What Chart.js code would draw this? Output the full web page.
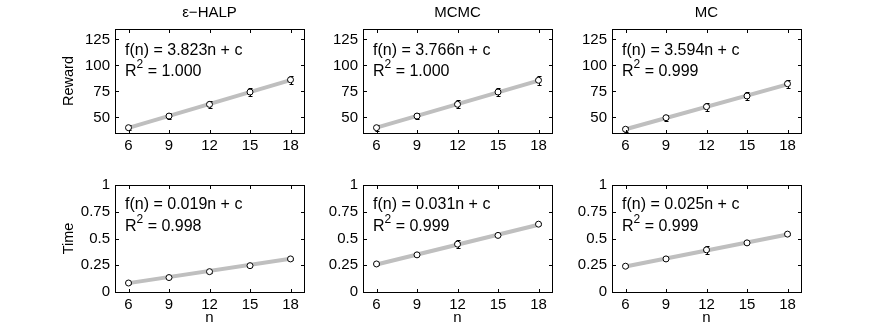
<!DOCTYPE html>
<html>
<head>
<meta charset="utf-8">
<script src="https://cdn.jsdelivr.net/npm/chart.js@4.4.1/dist/chart.umd.min.js"></script>
<style>
  body { margin: 0; background: #fff; }
  #wrap { position: relative; width: 886px; height: 332px; overflow: hidden; background: #fff; }
  canvas { position: absolute; }
</style>
</head>
<body>
<div id="wrap">
  <canvas id="r0" width="264" height="160" style="left:50px;top:0px"></canvas>
  <canvas id="r1" width="264" height="160" style="left:298px;top:0px"></canvas>
  <canvas id="r2" width="264" height="160" style="left:547px;top:0px"></canvas>
  <canvas id="t0" width="264" height="182" style="left:50px;top:150px"></canvas>
  <canvas id="t1" width="264" height="182" style="left:298px;top:150px"></canvas>
  <canvas id="t2" width="264" height="182" style="left:547px;top:150px"></canvas>
</div>
<script>
const nValues = [6, 9, 12, 15, 18];
const methods = ["ε−HALP", "MCMC", "MC"];

// reward means and error half-widths
const rewardHalp = [40.1, 51.3, 62.5, 74.4, 86.2];
const rewardHalpErr = [2.5, 3, 3.5, 4, 4];
const rewardMcmc = [40.1, 51.3, 62.6, 74.4, 85.7];
const rewardMcmcErr = [3, 2.8, 3.7, 4, 4.2];
const rewardMc = [38.6, 49.7, 60.3, 70.6, 82.4];
const rewardMcErr = [2.5, 3, 3.8, 4.2, 4];

// time means and error half-widths
const timeHalp = [0.084, 0.135, 0.19, 0.246, 0.309];
const timeHalpErr = [0.005, 0.005, 0.008, 0.01, 0.01];
const timeMcmc = [0.262, 0.347, 0.447, 0.529, 0.634];
const timeMcmcErr = [0.01, 0.01, 0.04, 0.01, 0.01];
const timeMc = [0.241, 0.309, 0.394, 0.459, 0.541];
const timeMcErr = [0.01, 0.01, 0.035, 0.01, 0.01];

// fitted lines, end points at n = 6 and n = 18
const fitN = [6, 18];
const rewardFitHalp = [40.0, 85.9];
const rewardFitMcmc = [40.2, 85.4];
const rewardFitMc = [38.6, 81.7];
const timeFitHalp = [0.083, 0.311];
const timeFitMcmc = [0.257, 0.629];
const timeFitMc = [0.238, 0.538];

const rewardSlopes = ["3.823", "3.766", "3.594"];
const rewardR2 = ["1.000", "1.000", "0.999"];
const timeSlopes = ["0.019", "0.031", "0.025"];
const timeR2 = ["0.998", "0.999", "0.999"];

const rewardTicks = [50, 75, 100, 125];
const timeTicks = [0, 0.25, 0.5, 0.75, 1];
const timeTickLabels = ["0", "0.25", "0.5", "0.75", "1"];

const FONT = '"Liberation Sans", Arial, sans-serif';
Chart.defaults.font.family = FONT;
Chart.defaults.font.size = 15;
Chart.defaults.color = "#000";

function panel(id, o) {
  const deco = {
    id: "deco",
    beforeDatasetDraw(chart, args) {
      if (args.index !== 0) return;
      // error bars, under the circles
      const x = chart.scales.x, y = chart.scales.y, ctx = chart.ctx;
      ctx.save();
      ctx.strokeStyle = "#000";
      ctx.lineWidth = 1;
      nValues.forEach((n, i) => {
        const px = Math.round(x.getPixelForValue(n)) + 0.5;
        const lo = Math.round(y.getPixelForValue(o.values[i] - o.errors[i])) + 0.5;
        const hi = Math.round(y.getPixelForValue(o.values[i] + o.errors[i])) + 0.5;
        ctx.beginPath();
        ctx.moveTo(px, lo); ctx.lineTo(px, hi);
        ctx.moveTo(px - 2, lo); ctx.lineTo(px + 2, lo);
        ctx.moveTo(px - 2, hi); ctx.lineTo(px + 2, hi);
        ctx.stroke();
      });
      ctx.restore();
    },
    afterDatasetsDraw(chart) {
      const ctx = chart.ctx;
      const { left, top, right, bottom } = chart.chartArea;
      const x = chart.scales.x, y = chart.scales.y;
      ctx.save();
      ctx.strokeStyle = "#000";
      ctx.lineWidth = 1;
      ctx.strokeRect(left + 0.5, top + 0.5, right - left, bottom - top);
      ctx.beginPath();
      nValues.forEach(n => {
        const px = Math.round(x.getPixelForValue(n)) + 0.5;
        ctx.moveTo(px, bottom); ctx.lineTo(px, bottom - 3);
        ctx.moveTo(px, top + 1); ctx.lineTo(px, top + 4);
      });
      o.ticks.forEach(v => {
        const py = Math.round(y.getPixelForValue(v)) + 0.5;
        ctx.moveTo(left + 1, py); ctx.lineTo(left + 4, py);
        ctx.moveTo(right, py); ctx.lineTo(right - 3, py);
      });
      ctx.stroke();

      // fit annotation
      ctx.fillStyle = "#000";
      ctx.textBaseline = "alphabetic";
      ctx.textAlign = "left";
      const x0 = left + 10;
      ctx.font = "16px " + FONT;
      ctx.fillText("f(n) = " + o.slope + "n + c", x0, top + o.line1);
      ctx.fillText("R", x0, top + o.line2);
      const rw = ctx.measureText("R").width;
      ctx.font = "12px " + FONT;
      ctx.fillText("2", x0 + rw, top + o.line2 - 8);
      const sw = ctx.measureText("2").width;
      ctx.font = "16px " + FONT;
      ctx.fillText(" = " + o.r2, x0 + rw + sw, top + o.line2);
      ctx.restore();
    }
  };

  return new Chart(document.getElementById(id), {
    type: "scatter",
    data: {
      datasets: [
        {
          data: nValues.map((n, i) => ({ x: n, y: o.values[i] })),
          showLine: false,
          pointRadius: 3,
          pointBorderWidth: 1,
          pointBackgroundColor: "#fff",
          pointBorderColor: "#000",
        },
        {
          data: fitN.map((n, i) => ({ x: n, y: o.fit[i] })),
          showLine: true,
          pointRadius: 0,
          borderColor: "#bfbfbf",
          borderWidth: 4,
        },
      ],
    },
    options: {
      responsive: false,
      animation: false,
      devicePixelRatio: 1,
      layout: { padding: { top: o.padTop, right: 10, left: 0, bottom: 0 } },
      plugins: {
        legend: { display: false },
        tooltip: { enabled: false },
        title: {
          display: !!o.title,
          text: o.title || "",
          fullSize: false, // centre over the plot box
          font: { size: 15, weight: "normal" },
          padding: { top: 4, bottom: 7 },
        },
      },
      scales: {
        x: {
          type: "linear",
          min: 5,
          max: 19,
          grid: { display: false, drawTicks: false },
          border: { display: false },
          ticks: { padding: 4 },
          afterBuildTicks: s => { s.ticks = nValues.map(v => ({ value: v })); },
          afterFit: s => { s.height = o.xHeight; },
          title: {
            display: !!o.xTitle,
            text: o.xTitle || "",
            font: { size: 15 },
            padding: { top: 0, bottom: 5 },
          },
        },
        y: {
          min: o.min,
          max: o.max,
          grid: { display: false, drawTicks: false },
          border: { display: false },
          ticks: {
            padding: 5,
            callback: (v, i) => o.tickLabels[i],
          },
          afterBuildTicks: s => { s.ticks = o.ticks.map(v => ({ value: v })); },
          afterFit: s => { s.width = 65; },
          title: {
            display: !!o.yTitle,
            text: o.yTitle || "",
            font: { size: 14.5 },
            padding: { top: 10.5, bottom: 0 },
          },
        },
      },
    },
    plugins: [deco],
  });
}

const rewardSets = [
  [rewardHalp, rewardHalpErr, rewardFitHalp],
  [rewardMcmc, rewardMcmcErr, rewardFitMcmc],
  [rewardMc, rewardMcErr, rewardFitMc],
];
const timeSets = [
  [timeHalp, timeHalpErr, timeFitHalp],
  [timeMcmc, timeMcmcErr, timeFitMcmc],
  [timeMc, timeMcErr, timeFitMc],
];

methods.forEach((m, k) => {
  panel("r" + k, {
    title: m,
    yTitle: k === 0 ? "Reward" : "",
    values: rewardSets[k][0],
    errors: rewardSets[k][1],
    fit: rewardSets[k][2],
    min: 35, max: 135,
    ticks: rewardTicks,
    tickLabels: rewardTicks.map(String),
    slope: rewardSlopes[k],
    r2: rewardR2[k],
    padTop: 0,
    xHeight: 27,
    line1: 26, line2: 47,
  });
  panel("t" + k, {
    yTitle: k === 0 ? "Time" : "",
    xTitle: "n",
    values: timeSets[k][0],
    errors: timeSets[k][1],
    fit: timeSets[k][2],
    min: 0, max: 1,
    ticks: timeTicks,
    tickLabels: timeTickLabels,
    slope: timeSlopes[k],
    r2: timeR2[k],
    padTop: 35,
    xHeight: 40,
    line1: 24, line2: 45.5,
  });
});
</script>
</body>
</html>
